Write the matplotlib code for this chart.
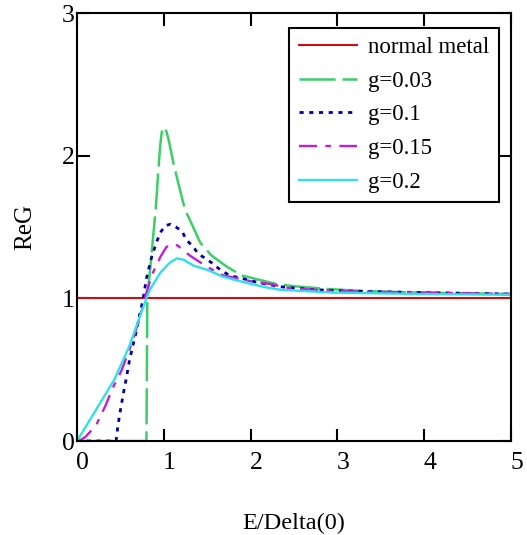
import matplotlib
matplotlib.use("Agg")
import matplotlib.pyplot as plt
import matplotlib.transforms as mtransforms

plt.rcParams['font.family'] = ['Liberation Serif', 'DejaVu Serif']
plt.rcParams['lines.scale_dashes'] = False

# values
x_metal = [0, 5]
y_metal = [1, 1]

x_g003 = [0, 0.80, 0.81, 0.85, 0.88, 0.91, 0.935, 0.96, 0.98, 1.0, 1.03, 1.06, 1.11, 1.17,
          1.245, 1.3, 1.42, 1.55, 1.73, 1.9, 2.1, 2.3, 2.5, 2.7, 2.9, 3.2, 3.6, 4.0, 4.5, 5.0]
y_g003 = [0, 0, 1.0, 1.25, 1.45, 1.65, 1.88, 2.08, 2.18, 2.2, 2.17, 2.1, 1.95, 1.8,
          1.62, 1.55, 1.39, 1.30, 1.22, 1.16, 1.13, 1.10, 1.085, 1.075, 1.065, 1.055, 1.045, 1.04, 1.035, 1.03]

x_g01 = [0, 0.45, 0.47, 0.49, 0.53, 0.565, 0.60, 0.64, 0.68, 0.72, 0.76, 0.80, 0.86, 0.92, 0.97,
         1.02, 1.08, 1.14, 1.21, 1.26, 1.34, 1.40, 1.48, 1.55, 1.65, 1.76, 1.9, 2.09, 2.36, 2.75,
         3.2, 3.6, 4.0, 4.5, 5.0]
y_g01 = [0, 0, 0.1, 0.18, 0.32, 0.43, 0.55, 0.66, 0.76, 0.88, 0.99, 1.14, 1.29, 1.40, 1.47,
         1.51, 1.52, 1.50, 1.47, 1.41, 1.36, 1.31, 1.28, 1.25, 1.20, 1.16, 1.14, 1.11, 1.08, 1.06,
         1.05, 1.045, 1.04, 1.035, 1.03]

x_g015 = [0, 0.05, 0.10, 0.22, 0.33, 0.41, 0.51, 0.64, 0.74, 0.78, 0.86, 0.96, 1.03, 1.1, 1.16,
          1.3, 1.5, 1.69, 1.77, 2.0, 2.23, 2.46, 3.0, 3.5, 4.0, 4.5, 5.0]
y_g015 = [0, 0.01, 0.03, 0.11, 0.25, 0.37, 0.49, 0.70, 0.90, 1.0, 1.16, 1.29, 1.36, 1.38, 1.37,
          1.30, 1.22, 1.16, 1.15, 1.12, 1.10, 1.07, 1.05, 1.045, 1.04, 1.035, 1.03]

x_g02 = [0, 0.15, 0.3, 0.43, 0.60, 0.74, 0.80, 0.84, 0.96, 1.07, 1.15, 1.23, 1.34, 1.5, 1.69,
         1.88, 2.15, 2.34, 2.95, 3.5, 4.0, 5.0]
y_g02 = [0, 0.15, 0.3, 0.43, 0.66, 0.9, 1.0, 1.06, 1.18, 1.25, 1.28, 1.27, 1.23, 1.2, 1.15,
         1.12, 1.08, 1.06, 1.04, 1.035, 1.03, 1.025]

fig = plt.figure(figsize=(5.27, 5.35), dpi=100)
ax = fig.add_axes([77 / 527, 1 - 441 / 535, 434 / 527, 428 / 535])

ax.plot(x_metal, y_metal, color='#c81010', lw=1.5, label='normal metal')
ax.plot(x_g003, y_g003, color='#3ccf68', lw=1.8, ls=(0, (26, 5)), label='g=0.03')
ax.plot(x_g01, y_g01, color='#0000a0', lw=2, ls=(0, (3, 4)), label='g=0.1')
ax.plot(x_g015, y_g015, color='#c020d0', lw=1.7, ls=(0, (13, 6, 4, 6)), label='g=0.15')
ax.plot(x_g02, y_g02, color='#30e0e8', lw=1.7, label='g=0.2')

ax.set_xlim(0, 5)
ax.set_ylim(0, 3)
ax.set_xticks([0, 1, 2, 3, 4, 5])
ax.set_yticks([0, 1, 2, 3])
ax.tick_params(direction='in', top=True, right=True, length=9, width=1.5, labelsize=18.5)
ax.tick_params(axis='x', pad=8)
ax.tick_params(axis='y', pad=1.5)
for s in ax.spines.values():
    s.set_linewidth(1.5)

shift = mtransforms.ScaledTranslation(4 / 72, 0, fig.dpi_scale_trans)
for lab in ax.get_xticklabels():
    lab.set_transform(lab.get_transform() + shift)

ax.set_xlabel('E/Delta(0)', fontsize=17.5, va='center')
ax.xaxis.set_label_coords(0.5, (441 - 523) / 428)
ax.set_ylabel('ReG', fontsize=18, va='center')
ax.yaxis.set_label_coords((25 - 77) / 434, 0.5)

leg = ax.legend(loc='upper right', bbox_to_anchor=(0.972, 0.965), borderaxespad=0,
                fancybox=False, framealpha=1, edgecolor='black', fontsize=16.5,
                handlelength=2.55, handletextpad=0.5, labelspacing=0.55, borderpad=0.4)
leg.get_frame().set_linewidth(1.5)

fig.savefig('out.png', dpi=100)
